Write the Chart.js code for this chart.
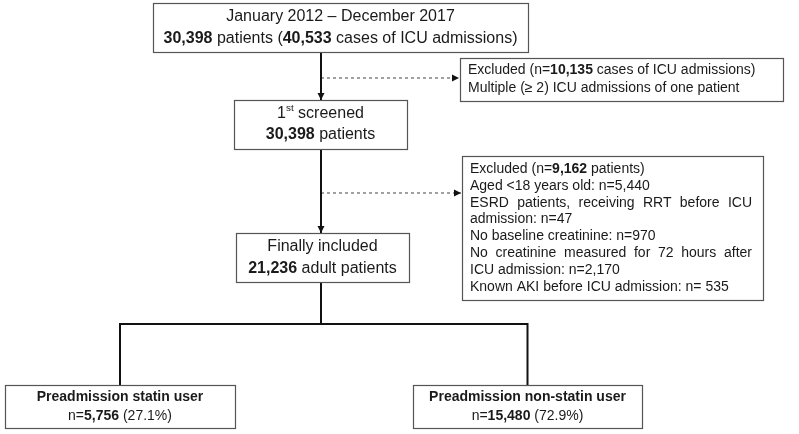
<!DOCTYPE html>
<html>
<head>
<meta charset="utf-8">
<script src="https://cdn.jsdelivr.net/npm/chart.js@4.4.1/dist/chart.umd.min.js"></script>
<style>
  html, body { margin: 0; padding: 0; background: #fff; }
  #wrap { width: 799px; height: 434px; }
</style>
</head>
<body>
<div id="wrap"><canvas id="flow"></canvas></div>
<script>
// text of each step (** = bold, ^ = superscript)
const periodLines = ["January 2012 – December 2017", "**30,398** patients (**40,533** cases of ICU admissions)"];
const screenedLines = ["1^st^ screened", "**30,398** patients"];
const firstExclusionLines = ["Excluded (n=**10,135** cases of ICU admissions)", "Multiple (≥ 2) ICU admissions of one patient"];
const secondExclusionLines = [
  "Excluded (n=**9,162** patients)",
  "Aged <18 years old: n=5,440",
  "ESRD patients, receiving RRT before ICU",
  "admission: n=47",
  "No baseline creatinine: n=970",
  "No creatinine measured for 72 hours after",
  "ICU admission: n=2,170",
  "Known AKI before ICU admission: n= 535"
];
const includedLines = ["Finally included", "**21,236** adult patients"];
const statinLines = ["**Preadmission statin user**", "n=**5,756** (27.1%)"];
const nonStatinLines = ["**Preadmission non-statin user**", "n=**15,480** (72.9%)"];

// layout in chart units (x 0..799, y 0..434 top-down)
const FONT = "'Liberation Sans', Arial, sans-serif";
const TRUNK_X = 321;
const BRANCH_Y = 324;
const boxes = {
  period:   { x0: 153, x1: 528, y0: 3,   y1: 52,  lines: periodLines, size: 16, lh: 22, align: 'center' },
  screened: { x0: 234, x1: 407, y0: 100, y1: 149, lines: screenedLines, size: 16, lh: 21, align: 'center' },
  excl1:    { x0: 460, x1: 783, y0: 58,  y1: 101, lines: firstExclusionLines, size: 14, lh: 18, align: 'left', arrowY: 78 },
  excl2:    { x0: 462, x1: 763, y0: 156, y1: 300, lines: secondExclusionLines, size: 14, lh: 16.8, align: 'left', arrowY: 193, justify: [2, 5] },
  included: { x0: 236, x1: 409, y0: 233, y1: 282, lines: includedLines, size: 16, lh: 22, align: 'center' },
  statin:   { x0: 5,   x1: 235, y0: 385, y1: 428, lines: statinLines, size: 14, lh: 19, align: 'center' },
  nonStatin:{ x0: 413, x1: 642, y0: 385, y1: 428, lines: nonStatinLines, size: 14, lh: 19, align: 'center' }
};

const midX = b => (b.x0 + b.x1) / 2;

function solid(points, arrow) {
  return { data: points, showLine: true, pointRadius: 0, borderColor: '#111', borderWidth: 2, arrow: arrow };
}
function dashed(points) {
  return { data: points, showLine: true, pointRadius: 0, borderColor: '#444', borderWidth: 1, borderDash: [3, 3], arrow: true };
}

const b = boxes;
const datasets = [
  solid([{ x: TRUNK_X, y: b.period.y1 }, { x: TRUNK_X, y: b.screened.y0 }], true),
  solid([{ x: TRUNK_X, y: b.screened.y1 }, { x: TRUNK_X, y: b.included.y0 }], true),
  dashed([{ x: TRUNK_X, y: b.excl1.arrowY }, { x: b.excl1.x0 - 1, y: b.excl1.arrowY }]),
  dashed([{ x: TRUNK_X, y: b.excl2.arrowY }, { x: b.excl2.x0 - 1, y: b.excl2.arrowY }]),
  solid([{ x: TRUNK_X, y: b.included.y1 }, { x: TRUNK_X, y: BRANCH_Y }], false),
  solid([
    { x: midX(b.statin), y: b.statin.y0 }, { x: midX(b.statin), y: BRANCH_Y },
    { x: midX(b.nonStatin), y: BRANCH_Y }, { x: midX(b.nonStatin), y: b.nonStatin.y0 }
  ], false)
];

// split "a **b** ^c^" into runs
function parseRuns(line) {
  const runs = [];
  let bold = false, sup = false, buf = '';
  for (let i = 0; i < line.length; i++) {
    if (line[i] === '*' && line[i + 1] === '*') {
      if (buf) runs.push({ t: buf, bold, sup }); buf = ''; bold = !bold; i++;
    } else if (line[i] === '^') {
      if (buf) runs.push({ t: buf, bold, sup }); buf = ''; sup = !sup;
    } else buf += line[i];
  }
  if (buf) runs.push({ t: buf, bold, sup });
  return runs;
}

function runFont(r, size) {
  const s = r.sup ? size * 0.62 : size;
  return (r.bold ? 'bold ' : '') + s + 'px ' + FONT;
}

const arrowPlugin = {
  id: 'arrows',
  afterDatasetsDraw(chart) {
    const ctx = chart.ctx;
    chart.data.datasets.forEach((ds, i) => {
      if (!ds.arrow) return;
      const pts = chart.getDatasetMeta(i).data;
      const p = pts[pts.length - 1], q = pts[pts.length - 2];
      const ang = Math.atan2(p.y - q.y, p.x - q.x);
      const len = 7, half = 3.5;
      ctx.save();
      ctx.translate(p.x, p.y);
      ctx.rotate(ang);
      ctx.fillStyle = '#111';
      ctx.beginPath();
      ctx.moveTo(0, 0);
      ctx.lineTo(-len, -half);
      ctx.lineTo(-len, half);
      ctx.closePath();
      ctx.fill();
      ctx.restore();
    });
  }
};

const boxPlugin = {
  id: 'boxes',
  afterDraw(chart) {
    const ctx = chart.ctx;
    const xs = chart.scales.x, ys = chart.scales.y;
    Object.values(boxes).forEach(bx => {
      const left = xs.getPixelForValue(bx.x0), right = xs.getPixelForValue(bx.x1);
      const top = ys.getPixelForValue(bx.y0), bottom = ys.getPixelForValue(bx.y1);
      ctx.save();
      ctx.fillStyle = '#fff';
      ctx.fillRect(left, top, right - left, bottom - top);
      ctx.strokeStyle = '#555';
      ctx.lineWidth = 1.2;
      ctx.strokeRect(left + 0.5, top + 0.5, right - left, bottom - top);

      ctx.fillStyle = '#1a1a1a';
      ctx.textBaseline = 'middle';
      const n = bx.lines.length;
      const cy = (top + bottom) / 2;
      const padL = 8, padR = 11;
      bx.lines.forEach((line, li) => {
        const y = cy + (li - (n - 1) / 2) * bx.lh;
        const runs = parseRuns(line);
        if (bx.justify && bx.justify.includes(li)) {
          ctx.font = runFont({}, bx.size);
          const words = line.split(' ');
          const widths = words.map(w => ctx.measureText(w).width);
          const avail = right - left - padL - padR;
          const gap = (avail - widths.reduce((a, c) => a + c, 0)) / (words.length - 1);
          let x = left + padL;
          words.forEach((w, wi) => { ctx.fillText(w, x, y); x += widths[wi] + gap; });
          return;
        }
        let total = 0;
        runs.forEach(r => { ctx.font = runFont(r, bx.size); r.w = ctx.measureText(r.t).width; total += r.w; });
        let x = bx.align === 'center' ? (left + right) / 2 - total / 2 : left + padL;
        runs.forEach(r => {
          ctx.font = runFont(r, bx.size);
          ctx.fillText(r.t, x, r.sup ? y - bx.size * 0.35 : y);
          x += r.w;
        });
      });
      ctx.restore();
    });
  }
};

new Chart(document.getElementById('flow'), {
  type: 'scatter',
  data: { datasets: datasets },
  options: {
    responsive: true,
    maintainAspectRatio: false,
    animation: false,
    layout: { padding: 0 },
    plugins: { legend: { display: false }, tooltip: { enabled: false } },
    scales: {
      x: { type: 'linear', min: 0, max: 799, display: false },
      y: { type: 'linear', min: 0, max: 434, reverse: true, display: false }
    }
  },
  plugins: [arrowPlugin, boxPlugin]
});
</script>
</body>
</html>
